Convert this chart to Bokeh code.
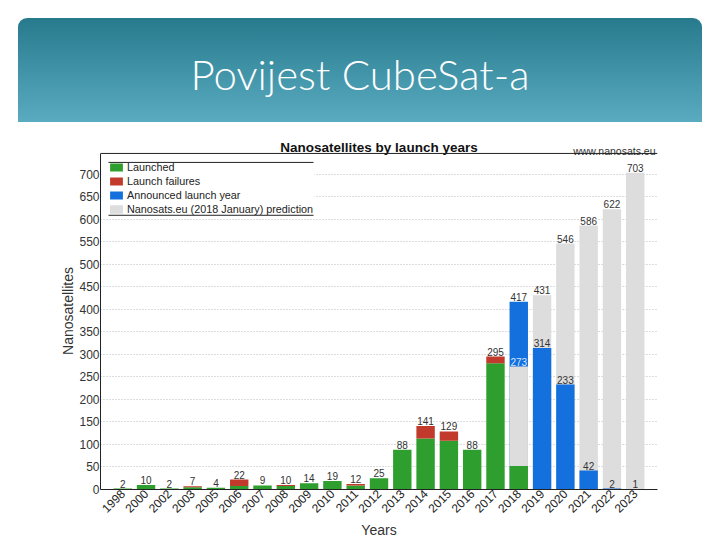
import math
from bokeh.plotting import figure
from bokeh.models import (ColumnDataSource, FactorRange, Range1d, Legend, LegendItem,
                          FixedTicker, Div, Span)
from bokeh.layouts import column
from bokeh.embed import file_html
from bokeh.resources import INLINE
from bokeh.core.properties import value

# ---------------- data ----------------
slide_title = "Povijest CubeSat-a"
chart_title = "Nanosatellites by launch years"
source_note = "www.nanosats.eu"
x_label = "Years"
y_label = "Nanosatellites"

years = ["1998", "2000", "2002", "2003", "2005", "2006", "2007", "2008", "2009",
         "2010", "2011", "2012", "2013", "2014", "2015", "2016", "2017", "2018",
         "2019", "2020", "2021", "2022", "2023"]
launched = [2, 10, 2, 5, 4, 8, 9, 8, 14, 19, 9, 25, 88, 113, 108, 88, 280, 52,
            0, 0, 0, 0, 0]
failures = [0, 0, 0, 2, 0, 14, 0, 2, 0, 0, 3, 0, 0, 28, 21, 0, 15, 0,
            0, 0, 0, 0, 0]
announced = [0] * 17 + [417, 314, 233, 42, 2, 1]
prediction = [0] * 17 + [273, 431, 546, 586, 622, 703]

y_ticks = [0, 50, 100, 150, 200, 250, 300, 350, 400, 450, 500, 550, 600, 650, 700]

legend_labels = ["Launched", "Launch failures", "Announced launch year",
                 "Nanosats.eu (2018 January) prediction"]

# ---------------- style / geometry ----------------
C_GREEN = "#2e9e2e"
C_RED = "#c23a2b"
C_BLUE = "#1470dc"
C_GRAY = "#dddddd"
TXT = "#333333"
FONT = "Liberation Sans"
PAD = 0.455          # factor-range padding on each side
Y_END = 746          # value at the top rule of the chart box
BAR_W = 0.79
n = len(years)

FIG_W, FIG_H = 720, 418
BORDER_L, BORDER_R, BORDER_T, BORDER_B = 100, 63, 10, 50
FRAME_W = FIG_W - BORDER_L - BORDER_R
FRAME_H = FIG_H - BORDER_T - BORDER_B
BOX_TOP = 21                     # px from frame top down to the chart-box top rule
Y_TOP = Y_END * FRAME_H / (FRAME_H - BOX_TOP)

x_start = -PAD
x_end = n + PAD
unit_x = FRAME_W / (x_end - x_start)
unit_y = FRAME_H / Y_TOP
def fx(px):          # px from frame left -> x data
    return x_start + px / unit_x
def fy(px):          # px below the box top rule -> y data
    return Y_END - px / unit_y

# ---------------- sources ----------------
def src(idx, top, bottom=None):
    return ColumnDataSource(dict(
        x=[years[i] for i in idx],
        top=[top[i] for i in idx],
        bottom=[0 if bottom is None else bottom[i] for i in idx]))

totals = [l + f for l, f in zip(launched, failures)]
i_gray_back = [i for i in range(n) if prediction[i] > 0 and prediction[i] >= announced[i]]
i_gray_front = [i for i in range(n) if prediction[i] > 0 and prediction[i] < announced[i]]
i_blue = [i for i in range(n) if announced[i] > 0]
i_green = [i for i in range(n) if launched[i] > 0]
i_red = [i for i in range(n) if failures[i] > 0]

p = figure(width=FIG_W, height=FIG_H,
           x_range=FactorRange(factors=years, range_padding=PAD,
                               range_padding_units="absolute"),
           y_range=Range1d(0, Y_TOP),
           output_backend="svg", toolbar_location=None,
           min_border_left=BORDER_L, min_border_right=BORDER_R,
           min_border_top=BORDER_T, min_border_bottom=BORDER_B)

# white legend background (covers grid lines) and its top/bottom rules
p.quad(left=[fx(1)], right=[fx(214)], top=[fy(1)], bottom=[fy(62)],
       fill_color="white", line_color=None)
p.segment(x0=[fx(8), fx(8)], x1=[fx(213), fx(213)], y0=[fy(9), fy(62)], y1=[fy(9), fy(62)],
          line_color="#222222", line_width=1)

r_gray_b = p.vbar(x="x", top="top", bottom="bottom", width=BAR_W, source=src(i_gray_back, prediction),
                  fill_color=C_GRAY, line_color=None)
r_blue = p.vbar(x="x", top="top", bottom="bottom", width=BAR_W, source=src(i_blue, announced),
                fill_color=C_BLUE, line_color=None)
r_gray_f = p.vbar(x="x", top="top", bottom="bottom", width=BAR_W, source=src(i_gray_front, prediction),
                  fill_color=C_GRAY, line_color=None)
r_green = p.vbar(x="x", top="top", bottom="bottom", width=BAR_W, source=src(i_green, launched),
                 fill_color=C_GREEN, line_color=None)
r_red = p.vbar(x="x", top="top", bottom="bottom", width=BAR_W, source=src(i_red, totals, launched),
               fill_color=C_RED, line_color=None)

# ---------------- value labels ----------------
lx, ly, lt, lc = [], [], [], []
for i in range(n):
    if prediction[i] == 0 and totals[i] > 0:
        lx.append(years[i]); ly.append(totals[i]); lt.append(str(totals[i])); lc.append(TXT)
    if announced[i] > 0:
        lx.append(years[i]); ly.append(announced[i]); lt.append(str(announced[i])); lc.append(TXT)
    if prediction[i] > 0:
        lx.append(years[i]); ly.append(prediction[i]); lt.append(str(prediction[i]))
        lc.append("#d4e8ff" if prediction[i] < announced[i] else TXT)
p.text(x="x", y="y", text="text", text_color="color",
       source=ColumnDataSource(dict(x=lx, y=ly, text=lt, color=lc)),
       text_font=value(FONT), text_font_size="10px", text_align="center",
       text_baseline="bottom", y_offset=-1)

# chart title and source note above the chart box
p.text(x=[n / 2], y=[Y_END], text=[chart_title], text_font=value(FONT),
       text_font_size="13.5px", text_font_style="bold", text_color="#111111",
       text_align="center", text_baseline="alphabetic", y_offset=-6)
p.text(x=[x_end], y=[Y_END], text=[source_note], text_font=value(FONT),
       text_font_size="10.5px", text_color=TXT,
       text_align="right", text_baseline="alphabetic", x_offset=-2, y_offset=-2)

# top rule of the chart box
p.add_layout(Span(location=Y_END, dimension="width", line_color="#222222", line_width=1))

# ---------------- legend ----------------
ROW_H = 14
LEG_TOP = 8          # px below the box top rule
legend = Legend(items=[LegendItem(label=legend_labels[0], renderers=[r_green]),
                       LegendItem(label=legend_labels[1], renderers=[r_red]),
                       LegendItem(label=legend_labels[2], renderers=[r_blue]),
                       LegendItem(label=legend_labels[3], renderers=[r_gray_b, r_gray_f])],
                location=(8, FRAME_H - BOX_TOP - LEG_TOP - 4 * ROW_H),
                margin=0, padding=0,
                border_line_color=None, background_fill_alpha=0,
                glyph_width=16, glyph_height=10, label_height=ROW_H, spacing=0,
                label_standoff=3, label_text_font=FONT, label_text_font_size="10.8px",
                label_text_color="#222222")
p.add_layout(legend)

# ---------------- axes / grid ----------------
p.title.text = ""

p.yaxis.ticker = FixedTicker(ticks=y_ticks)
p.yaxis.bounds = (0, Y_END)
p.yaxis.minor_tick_line_color = None
p.yaxis.major_tick_out = 0
p.yaxis.major_tick_in = 0
p.yaxis.major_label_standoff = 1
p.yaxis.major_label_text_font = FONT
p.yaxis.major_label_text_font_size = "12px"
p.yaxis.major_label_text_color = TXT
p.yaxis.axis_line_color = "#222222"
p.yaxis.axis_label = y_label
p.yaxis.axis_label_text_font = FONT
p.yaxis.axis_label_text_font_size = "14px"
p.yaxis.axis_label_text_font_style = "normal"
p.yaxis.axis_label_text_color = TXT
p.yaxis.axis_label_standoff = 0

p.xaxis.major_label_orientation = math.pi / 4
p.xaxis.major_tick_out = 0
p.xaxis.major_tick_in = 0
p.xaxis.major_label_standoff = 2
p.xaxis.major_label_text_font = FONT
p.xaxis.major_label_text_font_size = "12px"
p.xaxis.major_label_text_color = "#222222"
p.xaxis.axis_line_color = "#222222"
p.xaxis.axis_label = x_label
p.xaxis.axis_label_text_font = FONT
p.xaxis.axis_label_text_font_size = "14px"
p.xaxis.axis_label_text_font_style = "normal"
p.xaxis.axis_label_text_color = TXT
p.xaxis.axis_label_standoff = 2

p.xgrid.grid_line_color = None
p.ygrid.grid_line_color = "#bbbbbb"
p.ygrid.grid_line_dash = "1 2"
p.outline_line_color = None
p.background_fill_color = "white"
p.border_fill_color = "white"

# ---------------- slide header ----------------
header = Div(text=(
    '<div style="position:absolute;left:18px;top:18px;width:684px;height:104px;'
    'box-sizing:border-box;padding-top:8px;'
    'border-radius:9px 9px 0 0;background:linear-gradient(to bottom,#277a8c,#5aabc0);'
    'color:white;font-family:Lato,\'Open Sans\',sans-serif;font-weight:300;font-size:42px;'
    'text-align:center;line-height:96px;">' + slide_title + '</div>'),
    width=FIG_W, height=122, margin=(0, 0, 0, 0))

layout = column(header, p, spacing=0)
open("out.html", "w").write(file_html(layout, INLINE))
